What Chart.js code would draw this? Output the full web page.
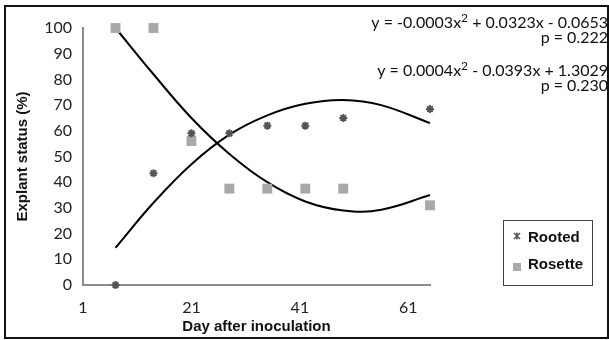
<!DOCTYPE html>
<html>
<head>
<meta charset="utf-8">
<script src="https://cdn.jsdelivr.net/npm/chart.js@4"></script>
<style>
  html, body { margin: 0; padding: 0; background: #fff; }
  #wrap { width: 609px; height: 340px; }
</style>
</head>
<body>
<div id="wrap"><canvas id="myChart" width="609" height="340"></canvas></div>
<script>
// data
const days = [7, 14, 21, 28, 35, 42, 49, 65];
const rooted = [0, 43.5, 59, 59, 62, 62, 65, 68.5];
const rosette = [100, 100, 56, 37.5, 37.5, 37.5, 37.5, 31];

// trend curves
const trendDays = [7, 14, 21, 28, 35, 42, 49, 56, 65];
const rootedTrend = [14.5, 32, 47, 58.5, 66, 70.5, 72, 70, 63];
const rosetteTrend = [100, 82, 65, 51, 40, 32.5, 29, 29.3, 35];

const xTicks = [1, 21, 41, 61];
const yTicks = [0, 10, 20, 30, 40, 50, 60, 70, 80, 90, 100];

function pts(xs, ys) {
  return xs.map(function (x, i) { return { x: x, y: ys[i] }; });
}

const axisGrey = '#8c8c8c';
const numFont = 'Lato, "Open Sans", sans-serif';
const boldFont = '"Liberation Sans", Arial, sans-serif';

const extras = {
  id: 'extras',
  afterDraw: function (chart) {
    const ctx = chart.ctx;
    ctx.save();
    // outer frame
    ctx.strokeStyle = '#111';
    ctx.lineWidth = 2;
    ctx.strokeRect(5, 6, 603, 332);

    // equations
    ctx.fillStyle = '#111';
    ctx.textBaseline = 'alphabetic';
    function eq(pre, post, right, y) {
      ctx.textAlign = 'left';
      ctx.font = '16px ' + numFont;
      const w1 = ctx.measureText(pre).width;
      const w2 = ctx.measureText(post).width;
      ctx.font = '12px ' + numFont;
      const ws = ctx.measureText('2').width;
      const start = right - w1 - w2 - ws;
      ctx.font = '16px ' + numFont;
      ctx.fillText(pre, start, y);
      ctx.font = '12px ' + numFont;
      ctx.fillText('2', start + w1, y - 6);
      ctx.font = '16px ' + numFont;
      ctx.fillText(post, start + w1 + ws, y);
    }
    eq('y = -0.0003x', ' + 0.0323x - 0.0653', 608, 28);
    ctx.textAlign = 'right';
    ctx.fillText('p = 0.222', 608, 43);
    eq('y = 0.0004x', ' - 0.0393x + 1.3029', 608, 76);
    ctx.textAlign = 'right';
    ctx.fillText('p = 0.230', 608, 91);

    // legend box
    ctx.strokeStyle = '#444';
    ctx.lineWidth = 1;
    ctx.strokeRect(503.5, 220.5, 89, 65);
    ctx.font = 'bold 15px ' + boldFont;
    ctx.textAlign = 'left';
    ctx.textBaseline = 'middle';
    ctx.fillStyle = '#111';
    ctx.fillText('Rooted', 528, 238);
    ctx.fillText('Rosette', 528, 265);
    // legend markers
    ctx.strokeStyle = '#555';
    ctx.lineWidth = 1.5;
    const mx = 517, my = 236;
    ctx.beginPath();
    ctx.moveTo(mx - 3, my - 3); ctx.lineTo(mx + 3, my + 3);
    ctx.moveTo(mx + 3, my - 3); ctx.lineTo(mx - 3, my + 3);
    ctx.moveTo(mx, my - 3.5); ctx.lineTo(mx, my + 3.5);
    ctx.stroke();
    ctx.fillStyle = '#a9a9a9';
    ctx.fillRect(513, 263, 8, 8);
    ctx.restore();
  }
};

new Chart(document.getElementById('myChart'), {
  type: 'scatter',
  data: {
    datasets: [
      {
        label: 'Rooted',
        data: pts(days, rooted),
        pointStyle: 'star',
        radius: 4,
        borderColor: '#555',
        backgroundColor: '#555',
        borderWidth: 2,
        order: 1
      },
      {
        label: 'Rosette',
        data: pts(days, rosette),
        pointStyle: 'rect',
        radius: 7,
        borderColor: '#a9a9a9',
        backgroundColor: '#a9a9a9',
        borderWidth: 0,
        order: 2
      },
      {
        type: 'line',
        label: 'Rooted trend',
        data: pts(trendDays, rootedTrend),
        borderColor: '#000',
        borderWidth: 2,
        pointRadius: 0,
        tension: 0.4,
        fill: false,
        order: 3
      },
      {
        type: 'line',
        label: 'Rosette trend',
        data: pts(trendDays, rosetteTrend),
        borderColor: '#000',
        borderWidth: 2,
        pointRadius: 0,
        tension: 0.4,
        fill: false,
        order: 4
      }
    ]
  },
  options: {
    responsive: false,
    animation: false,
    clip: false,
    layout: { padding: { top: 28, right: 179, left: 10, bottom: 0 } },
    plugins: { legend: { display: false }, tooltip: { enabled: false } },
    scales: {
      x: {
        type: 'linear',
        min: 1,
        max: 65,
        afterBuildTicks: function (s) { s.ticks = xTicks.map(function (v) { return { value: v }; }); },
        afterFit: function (s) { s.height = 55; },
        grid: { display: false, drawOnChartArea: false, drawTicks: true, tickLength: 5, tickColor: axisGrey },
        border: { color: axisGrey, width: 2 },
        ticks: { color: '#222', font: { family: numFont, size: 16 }, padding: 8 },
        title: {
          display: true,
          text: 'Day after inoculation',
          color: '#111',
          font: { family: boldFont, size: 15, weight: 'bold' },
          padding: { top: 0 }
        }
      },
      y: {
        min: 0,
        max: 100,
        afterBuildTicks: function (s) { s.ticks = yTicks.map(function (v) { return { value: v }; }); },
        afterFit: function (s) { s.width = 73; },
        grid: { display: false, drawOnChartArea: false, drawTicks: true, tickLength: 5, tickColor: axisGrey },
        border: { color: axisGrey, width: 2 },
        ticks: { color: '#222', font: { family: numFont, size: 16 }, padding: 6 },
        title: {
          display: true,
          text: 'Explant status (%)',
          color: '#111',
          font: { family: boldFont, size: 15, weight: 'bold' },
          padding: { top: 4, bottom: 0 }
        }
      }
    }
  },
  plugins: [extras]
});
</script>
</body>
</html>
